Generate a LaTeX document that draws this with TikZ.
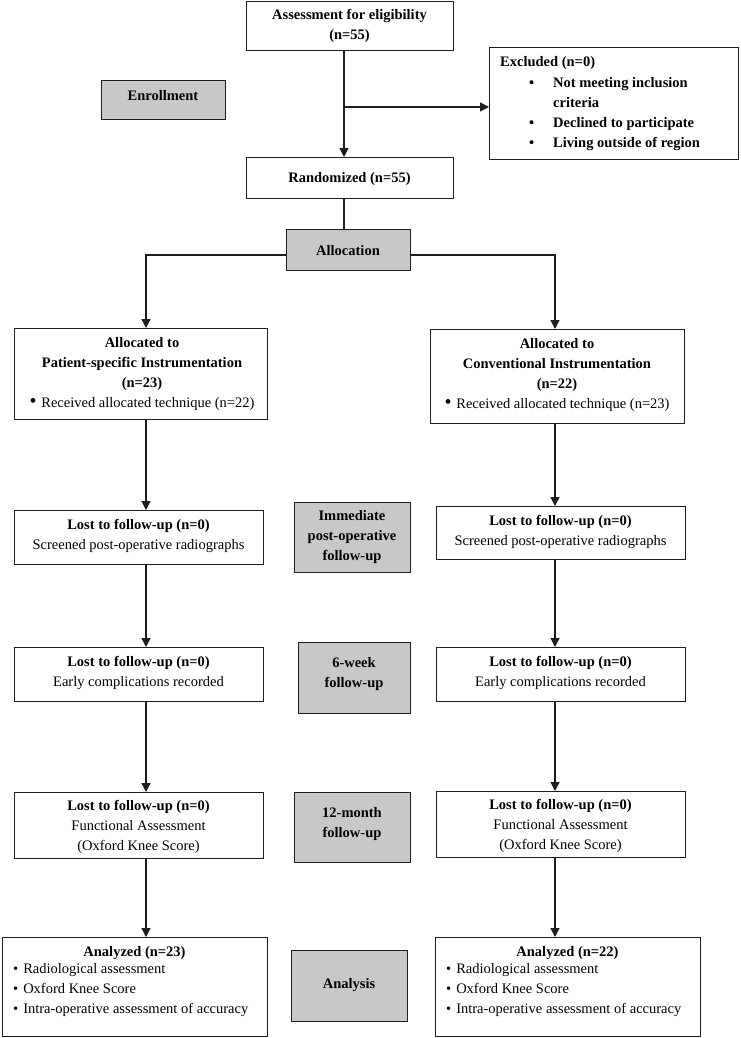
\documentclass[tikz,border=0pt]{standalone}
\usepackage{fontspec}
\setmainfont{Liberation Serif}
\usetikzlibrary{arrows.meta}
\definecolor{gfill}{RGB}{200,200,200}
\definecolor{ink}{RGB}{30,30,30}
\newcommand{\bigdot}{{\fontsize{20}{20}\selectfont\textbullet}}
\begin{document}
\begin{tikzpicture}[x=1pt,y=-1pt,
  box/.style={draw=ink, line width=1.2pt, fill=white, inner sep=0pt, anchor=north west},
  gbox/.style={box, fill=gfill},
  txt/.style={font=\fontsize{14.5}{20}\selectfont, align=center, inner sep=0pt},
  btxt/.style={font=\fontsize{14.5}{20}\selectfont\bfseries, align=center, inner sep=0pt},
  ltxt/.style={font=\fontsize{14.5}{20}\selectfont, align=left, inner sep=0pt, anchor=north west},
  arr/.style={line width=1.3pt, draw=ink, -{Triangle[width=9pt,length=9pt]}},
  ln/.style={line width=1.3pt, draw=ink}
]
\useasboundingbox[fill=white] (0,0) rectangle (741,1038);

% column coordinates
\coordinate (cx) at (344,0);
\coordinate (lx) at (146,0);
\coordinate (rx) at (555,0);
\coordinate (br) at (344,107);
\coordinate (ay) at (0,255);

% enrollment part
\node[box, minimum width=207pt, minimum height=49pt] (A) at (246,1) {};
\node[btxt] (At) at (349.5,26) {Assessment for eligibility\\(n=55)};

\node[gbox, minimum width=124pt, minimum height=39pt] (E) at (101,80) {};
\node[btxt] (Et) at (163,96) {Enrollment};

\node[box, minimum width=249pt, minimum height=112pt] (X) at (489,47) {};
\node[font=\fontsize{14.5}{20}\selectfont\bfseries, inner sep=0pt, anchor=base west] (Xt) at (500,67) {%
\begin{tabular}[t]{@{}p{29pt}@{}p{24pt}@{}l@{}}
\multicolumn{3}{@{}l}{Excluded (n=0)}\\[1pt]
 & \textbullet & Not meeting inclusion\\
 & & criteria\\
 & \textbullet & Declined to participate\\
 & \textbullet & Living outside of region
\end{tabular}};

\node[box, minimum width=207pt, minimum height=41pt] (R) at (246,157) {};
\node[btxt] (Rt) at (349.5,179) {Randomized (n=55)};

\node[gbox, minimum width=124pt, minimum height=41pt] (Al) at (286,229) {};
\node[btxt] (Alt) at (348,251) {Allocation};

% allocation boxes
\node[box, minimum width=253pt, minimum height=91pt] (L1) at (14,328) {};
\node[txt] (L1t) at (142,374) {\textbf{Allocated to}\\\textbf{Patient-specific Instrumentation}\\\textbf{(n=23)}\\\bigdot\,\,Received allocated technique (n=22)};

\node[box, minimum width=254pt, minimum height=94pt] (R1) at (430,329) {};
\node[txt] (R1t) at (557,375.5) {\textbf{Allocated to}\\\textbf{Conventional Instrumentation}\\\textbf{(n=22)}\\\bigdot\,\,Received allocated technique (n=23)};

% immediate post-operative
\node[box, minimum width=249pt, minimum height=54pt] (L2) at (14,510) {};
\node[txt] (L2t) at (138.5,536) {\textbf{Lost to follow-up (n=0)}\\Screened post-operative radiographs};
\node[gbox, minimum width=116pt, minimum height=70pt] (G2) at (294,502) {};
\node[btxt] (G2t) at (352,537) {Immediate\\post-operative\\follow-up};
\node[box, minimum width=249pt, minimum height=53pt] (R2) at (436,506) {};
\node[txt] (R2t) at (560.5,531.5) {\textbf{Lost to follow-up (n=0)}\\Screened post-operative radiographs};

% 6-week
\node[box, minimum width=249pt, minimum height=54pt] (L3) at (14,647) {};
\node[txt] (L3t) at (138.5,673) {\textbf{Lost to follow-up (n=0)}\\Early complications recorded};
\node[gbox, minimum width=112pt, minimum height=71pt] (G3) at (298,642) {};
\node[btxt] (G3t) at (354,674.5) {6-week\\follow-up};
\node[box, minimum width=249pt, minimum height=54pt] (R3) at (436,647) {};
\node[txt] (R3t) at (560.5,673) {\textbf{Lost to follow-up (n=0)}\\Early complications recorded};

% 12-month
\node[box, minimum width=249pt, minimum height=66pt] (L4) at (14,792) {};
\node[txt] (L4t) at (138.5,827) {\textbf{Lost to follow-up (n=0)}\\Functional Assessment\\(Oxford Knee Score)};
\node[gbox, minimum width=116pt, minimum height=70pt] (G4) at (294,792) {};
\node[btxt] (G4t) at (352,824) {12-month\\follow-up};
\node[box, minimum width=249pt, minimum height=66pt] (R4) at (436,791) {};
\node[txt] (R4t) at (560.5,826) {\textbf{Lost to follow-up (n=0)}\\Functional Assessment\\(Oxford Knee Score)};

% analysis
\node[box, minimum width=265pt, minimum height=99pt] (L5) at (2,937) {};
\node[btxt] (L5h) at (134.5,953) {Analyzed (n=23)};
\node[ltxt] (L5t) at (13,963) {\textbullet\hspace{5pt}Radiological assessment\\\textbullet\hspace{5pt}Oxford Knee Score\\\textbullet\hspace{5pt}Intra-operative assessment of accuracy};
\node[gbox, minimum width=116pt, minimum height=71pt] (G5) at (291,950) {};
\node[btxt] (G5t) at (349,985) {Analysis};
\node[box, minimum width=265pt, minimum height=99pt] (R5) at (435,937) {};
\node[btxt] (R5h) at (567.5,953) {Analyzed (n=22)};
\node[ltxt] (R5t) at (446,963) {\textbullet\hspace{5pt}Radiological assessment\\\textbullet\hspace{5pt}Oxford Knee Score\\\textbullet\hspace{5pt}Intra-operative assessment of accuracy};

% connectors
\draw[arr] (A.south -| cx) -- (R.north -| cx);
\draw[arr] (br) -- (X.west |- br);
\draw[ln] (R.south -| cx) -- (Al.north -| cx);
\draw[arr] (Al.west |- ay) -| (L1.north -| lx);
\draw[arr] (Al.east |- ay) -| (R1.north -| rx);
\draw[arr] (L1.south -| lx) -- (L2.north -| lx);
\draw[arr] (L2.south -| lx) -- (L3.north -| lx);
\draw[arr] (L3.south -| lx) -- (L4.north -| lx);
\draw[arr] (L4.south -| lx) -- (L5.north -| lx);
\draw[arr] (R1.south -| rx) -- (R2.north -| rx);
\draw[arr] (R2.south -| rx) -- (R3.north -| rx);
\draw[arr] (R3.south -| rx) -- (R4.north -| rx);
\draw[arr] (R4.south -| rx) -- (R5.north -| rx);
\end{tikzpicture}
\end{document}
